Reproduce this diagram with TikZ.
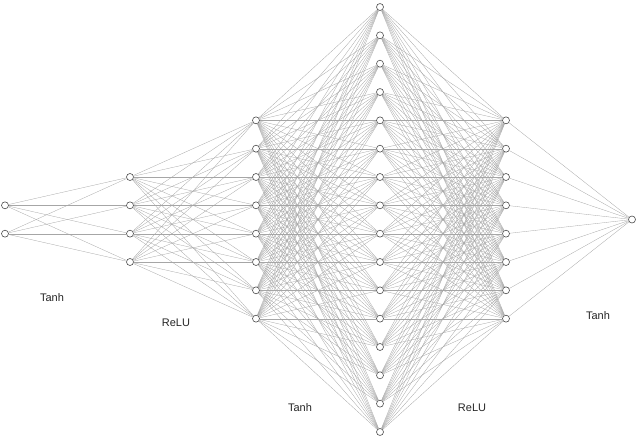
\documentclass[tikz,border=0pt]{standalone}
\usepackage{fontspec}
\setmainfont{Liberation Sans}
\begin{document}
\begin{tikzpicture}[x=1pt,y=-1pt,
  neuron/.style={circle,draw=black!70,fill=white,line width=0.6pt,minimum size=7pt,inner sep=0pt},
  edge/.style={draw=black!35,line width=0.3pt},
  lbl/.style={font=\fontsize{11}{13}\selectfont,text=black!85}]
\useasboundingbox (0,0) rectangle (640,439);
\def\sp{28.33}
\def\cy{219.5}
% layers: index/count/x
\foreach \L/\n/\x in {1/2/5,2/4/130,3/8/256,4/16/380,5/8/506,6/1/632}{
  \foreach \i in {1,...,\n}{
    \node[neuron] (n\L-\i) at (\x,{\cy+(\i-(\n+1)/2)*\sp}) {};
  }
}
\foreach \a/\na/\b/\nb in {1/2/2/4,2/4/3/8,3/8/4/16,4/16/5/8,5/8/6/1}{
  \foreach \i in {1,...,\na}{
    \foreach \j in {1,...,\nb}{
      \draw[edge] (n\a-\i) -- (n\b-\j);
    }
  }
}
\node[lbl] (t1) at (52,298) {Tanh};
\node[lbl] (t2) at (176,323) {ReLU};
\node[lbl] (t3) at (300,408) {Tanh};
\node[lbl] (t4) at (472,408) {ReLU};
\node[lbl] (t5) at (598,316) {Tanh};
\end{tikzpicture}
\end{document}
